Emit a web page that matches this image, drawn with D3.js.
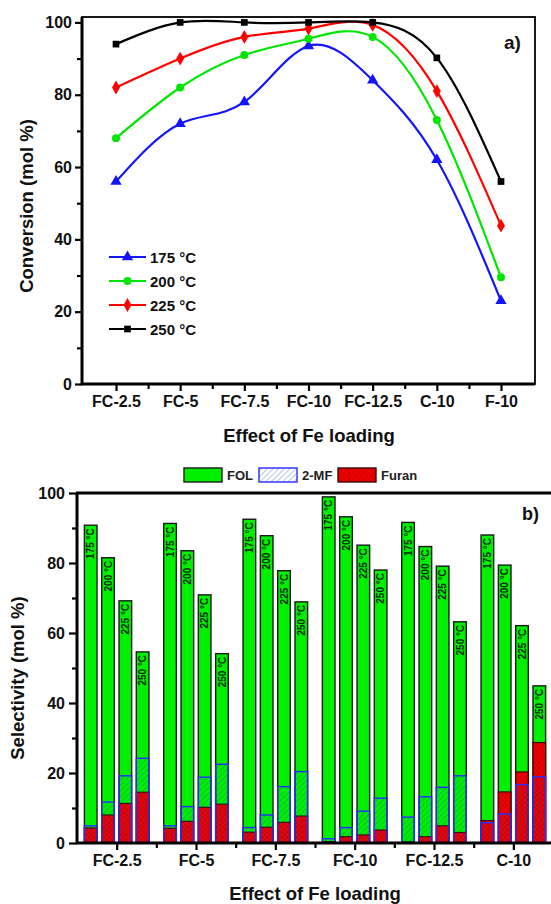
<!DOCTYPE html>
<html>
<head>
<meta charset="utf-8">
<script src="https://cdn.jsdelivr.net/npm/d3@7/dist/d3.min.js"></script>
<style>
  html, body { margin: 0; padding: 0; background: #ffffff; }
  svg { display: block; }
  text { font-family: Arial, "Liberation Sans", sans-serif; }
</style>
</head>
<body>
<script>
// ---------- Data: panel a) ----------
const categoriesA = ["FC-2.5", "FC-5", "FC-7.5", "FC-10", "FC-12.5", "C-10", "F-10"];
const tempLabels = ["175 °C", "200 °C", "225 °C", "250 °C"];
const conv175 = [56, 72, 78, 93.5, 84, 62, 23];
const conv200 = [68, 82, 91, 95.5, 96, 73, 29.5];
const conv225 = [82, 90, 96, 98.3, 99.3, 81, 43.8];
const conv250 = [94, 100, 100, 100, 100, 90.2, 56];
const yTicksA = [0, 20, 40, 60, 80, 100];

// ---------- Data: panel b) ----------
const categoriesB = ["FC-2.5", "FC-5", "FC-7.5", "FC-10", "FC-12.5", "C-10"];
const fol175 = [90.8, 91.3, 92.5, 98.9, 91.6, 88.0];
const fol200 = [81.5, 83.5, 87.8, 93.2, 84.7, 79.4];
const fol225 = [69.2, 70.9, 77.8, 85.1, 79.1, 62.1];
const fol250 = [54.6, 54.1, 68.9, 78.0, 63.2, 44.9];
const mf175 = [4.9, 4.9, 4.4, 1.2, 7.4, 5.8];
const mf200 = [11.7, 10.4, 8.0, 4.4, 13.2, 8.3];
const mf225 = [19.2, 18.8, 16.1, 9.1, 15.9, 16.7];
const mf250 = [24.2, 22.5, 20.4, 12.8, 19.2, 18.9];
const fu175 = [4.3, 4.2, 3.1, 0.4, 0.3, 6.4];
const fu200 = [8.0, 6.2, 4.5, 1.8, 1.8, 14.6];
const fu225 = [11.3, 10.2, 5.9, 2.3, 4.9, 20.3];
const fu250 = [14.5, 11.1, 7.7, 3.7, 3.0, 28.7];
const yTicksB = [0, 20, 40, 60, 80, 100];
const legendB = ["FOL", "2-MF", "Furan"];

const W = 551, H = 904;
const FONT = "Arial, 'Liberation Sans', sans-serif";
const svg = d3.select("body").append("svg").attr("width", W).attr("height", H);

const defs = svg.append("defs");
const pMF = defs.append("pattern").attr("id", "hatchMF")
  .attr("patternUnits", "userSpaceOnUse").attr("width", 4).attr("height", 4)
  .attr("patternTransform", "rotate(45)");
pMF.append("line").attr("x1", 0).attr("y1", 0).attr("x2", 0).attr("y2", 4)
  .attr("stroke", "#2050b8").attr("stroke-width", 1.2).attr("stroke-opacity", 0.55);

const pFu = defs.append("pattern").attr("id", "hatchFu")
  .attr("patternUnits", "userSpaceOnUse").attr("width", 3.5).attr("height", 3.5)
  .attr("patternTransform", "rotate(45)");
pFu.append("rect").attr("width", 3.5).attr("height", 3.5).attr("fill", "#f00000");
pFu.append("line").attr("x1", 0).attr("y1", 0).attr("x2", 0).attr("y2", 3.5)
  .attr("stroke", "#a00000").attr("stroke-width", 0.6);
pFu.append("line").attr("x1", 0).attr("y1", 0).attr("x2", 3.5).attr("y2", 0)
  .attr("stroke", "#a00000").attr("stroke-width", 0.6);

function styleAxis(g) {
  g.select(".domain").remove();
  g.selectAll(".tick line").attr("stroke", "#000").attr("stroke-width", 2.2);
  g.selectAll(".tick text").attr("fill", "#111").attr("font-size", 16).attr("font-weight", "bold")
    .attr("font-family", FONT);
}

// =================== Panel a ===================
const aL = 82, aR = 535, aT = 17, aB = 384;
const xA = d3.scalePoint().domain(categoriesA).range([aL, aR]).padding(0.53);
const yA = d3.scaleLinear().domain([0, 101.5]).range([aB, aT]);

const gA = svg.append("g");

const yAxA = gA.append("g").attr("transform", `translate(${aL},0)`)
  .call(d3.axisLeft(yA).tickValues(yTicksA).tickSize(7).tickPadding(3).tickFormat(d3.format("d")));
const yAxAm = gA.append("g").attr("transform", `translate(${aL},0)`)
  .call(d3.axisLeft(yA).tickValues([10, 30, 50, 70, 90]).tickSize(5).tickFormat(""));
const xAxA = gA.append("g").attr("transform", `translate(0,${aB})`)
  .call(d3.axisBottom(xA).tickSize(7).tickPadding(5));
const midsA = categoriesA.slice(0, -1).map((c, i) => (xA(c) + xA(categoriesA[i + 1])) / 2);
const xAxAm = gA.append("g").attr("transform", `translate(0,${aB})`)
  .call(d3.axisBottom(d3.scaleIdentity()).tickValues(midsA).tickSize(5).tickFormat(""));
[yAxA, yAxAm, xAxA, xAxAm].forEach(styleAxis);

gA.append("rect").attr("x", aL).attr("y", aT).attr("width", aR - aL).attr("height", aB - aT)
  .attr("fill", "none").attr("stroke", "#000").attr("stroke-width", 1.8);
gA.append("line").attr("x1", aL).attr("x2", aL).attr("y1", aT).attr("y2", aB + 1)
  .attr("stroke", "#000").attr("stroke-width", 3);
gA.append("line").attr("x1", aL - 1).attr("x2", aR).attr("y1", aB).attr("y2", aB)
  .attr("stroke", "#000").attr("stroke-width", 3);

const seriesA = [
  { name: tempLabels[0], values: conv175, color: "#1414ff", symbol: d3.symbolTriangle, size: 55 },
  { name: tempLabels[1], values: conv200, color: "#00e600", symbol: d3.symbolCircle, size: 50 },
  { name: tempLabels[2], values: conv225, color: "#ff0000", symbol: d3.symbolDiamond, size: 55 },
  { name: tempLabels[3], values: conv250, color: "#000000", symbol: d3.symbolSquare, size: 45 }
];

const lineA = d3.line().x((d, i) => xA(categoriesA[i])).y(d => yA(d)).curve(d3.curveNatural);
seriesA.forEach(s => {
  gA.append("path").datum(s.values).attr("d", lineA).attr("fill", "none")
    .attr("stroke", s.color).attr("stroke-width", 2.2);
  gA.selectAll(null).data(s.values).enter().append("path")
    .attr("d", d3.symbol().type(s.symbol).size(s.size))
    .attr("transform", (d, i) => `translate(${xA(categoriesA[i])},${yA(d)})`)
    .attr("fill", s.color);
});

const legA = gA.append("g");
seriesA.forEach((s, i) => {
  const y = 257 + i * 24;
  legA.append("line").attr("x1", 109).attr("x2", 146).attr("y1", y).attr("y2", y)
    .attr("stroke", s.color).attr("stroke-width", 2.2);
  legA.append("path").attr("d", d3.symbol().type(s.symbol).size(s.size))
    .attr("transform", `translate(127.5,${y})`).attr("fill", s.color);
  legA.append("text").attr("x", 150).attr("y", y + 5.5).attr("font-size", 15)
    .attr("font-weight", "bold").attr("fill", "#111").text(s.name);
});

gA.append("text").attr("x", 504).attr("y", 49).attr("font-size", 19).attr("font-weight", "bold")
  .attr("fill", "#111").text("a)");
gA.append("text").attr("x", 309).attr("y", 442).attr("text-anchor", "middle")
  .attr("font-size", 18.5).attr("font-weight", "bold").attr("fill", "#111").text("Effect of Fe loading");
gA.append("text").attr("transform", "translate(33,206) rotate(-90)").attr("text-anchor", "middle")
  .attr("font-size", 18.5).attr("font-weight", "bold").attr("fill", "#111").text("Conversion (mol %)");

// =================== Panel b ===================
const bL = 77, bR = 553, bT = 493, bB = 843;
const xB = d3.scaleBand().domain(categoriesB).range([bL, bR]).paddingInner(0.186).paddingOuter(0.093);
const xBi = d3.scaleBand().domain(tempLabels).range([0, xB.bandwidth()]).paddingInner(0.27).paddingOuter(0);
const yB = d3.scaleLinear().domain([0, 100]).range([bB, bT]);

const gB = svg.append("g");

const folS = [fol175, fol200, fol225, fol250];
const mfS = [mf175, mf200, mf225, mf250];
const fuS = [fu175, fu200, fu225, fu250];

const barData = [];
categoriesB.forEach((c, ci) => {
  tempLabels.forEach((t, ti) => {
    barData.push({ cat: c, temp: t, fol: folS[ti][ci], mf: mfS[ti][ci], fu: fuS[ti][ci] });
  });
});
const bx = d => xB(d.cat) + xBi(d.temp);
const bw = xBi.bandwidth();

gB.selectAll(".fol").data(barData).enter().append("rect")
  .attr("x", bx).attr("width", bw)
  .attr("y", d => yB(d.fol)).attr("height", d => yB(0) - yB(d.fol))
  .attr("fill", "#00f000").attr("stroke", "#1a1a1a").attr("stroke-width", 1.4);
gB.selectAll(".fu").data(barData).enter().append("rect")
  .attr("x", bx).attr("width", bw)
  .attr("y", d => yB(d.fu)).attr("height", d => yB(0) - yB(d.fu))
  .attr("fill", "url(#hatchFu)").attr("stroke", "#3a0a0a").attr("stroke-width", 1.2);
gB.selectAll(".mf").data(barData).enter().append("rect")
  .attr("x", bx).attr("width", bw)
  .attr("y", d => yB(d.mf)).attr("height", d => yB(0) - yB(d.mf))
  .attr("fill", "url(#hatchMF)").attr("stroke", "#2a2aff").attr("stroke-width", 1.4);

gB.selectAll(".lbl").data(barData).enter().append("text")
  .attr("transform", d => `translate(${bx(d) + bw / 2 + 3.6},${yB(d.fol) + 3}) rotate(-90)`)
  .attr("text-anchor", "end").attr("font-size", 10).attr("font-weight", "bold")
  .attr("fill", "#0a2a0a").text(d => d.temp);

const yAxB = gB.append("g").attr("transform", `translate(${bL},0)`)
  .call(d3.axisLeft(yB).tickValues(yTicksB).tickSize(8).tickPadding(4).tickFormat(d3.format("d")));
const yAxBm = gB.append("g").attr("transform", `translate(${bL},0)`)
  .call(d3.axisLeft(yB).tickValues([10, 30, 50, 70, 90]).tickSize(5).tickFormat(""));
const xBc = d3.scalePoint().domain(categoriesB).range([xB(categoriesB[0]) + xB.bandwidth() / 2,
  xB(categoriesB[categoriesB.length - 1]) + xB.bandwidth() / 2]);
const xAxB = gB.append("g").attr("transform", `translate(0,${bB})`)
  .call(d3.axisBottom(xBc).tickSize(7).tickPadding(5));
const midsB = categoriesB.slice(0, -1).map((c, i) => (xBc(c) + xBc(categoriesB[i + 1])) / 2);
const xAxBm = gB.append("g").attr("transform", `translate(0,${bB})`)
  .call(d3.axisBottom(d3.scaleIdentity()).tickValues(midsB).tickSize(5).tickFormat(""));
[yAxB, yAxBm, xAxB, xAxBm].forEach(styleAxis);

gB.append("rect").attr("x", bL).attr("y", bT).attr("width", bR - bL).attr("height", bB - bT)
  .attr("fill", "none").attr("stroke", "#000").attr("stroke-width", 1.8);
gB.append("line").attr("x1", bL).attr("x2", bL).attr("y1", bT).attr("y2", bB + 1)
  .attr("stroke", "#000").attr("stroke-width", 3);
gB.append("line").attr("x1", bL - 1).attr("x2", bR).attr("y1", bB).attr("y2", bB)
  .attr("stroke", "#000").attr("stroke-width", 3);
gB.append("line").attr("x1", bL - 1).attr("x2", bR).attr("y1", bT).attr("y2", bT)
  .attr("stroke", "#000").attr("stroke-width", 3);

const legFills = ["#00f000", "url(#hatchMF)", "url(#hatchFu)"];
const legStrokes = ["#1a1a1a", "#2a2aff", "#3a0a0a"];
const legX = [184, 259, 338];
legendB.forEach((n, i) => {
  if (i === 1) {
    gB.append("rect").attr("x", legX[i]).attr("y", 468).attr("width", 38).attr("height", 14)
      .attr("fill", "#ffffff");
  }
  gB.append("rect").attr("x", legX[i]).attr("y", 468).attr("width", 38).attr("height", 14)
    .attr("fill", legFills[i]).attr("stroke", legStrokes[i]).attr("stroke-width", 1.4);
  gB.append("text").attr("x", legX[i] + 43).attr("y", 480).attr("font-size", 13)
    .attr("font-weight", "bold").attr("fill", "#222").text(n);
});

gB.append("text").attr("x", 522).attr("y", 520).attr("font-size", 18).attr("font-weight", "bold")
  .attr("fill", "#111").text("b)");
gB.append("text").attr("x", 315).attr("y", 900).attr("text-anchor", "middle")
  .attr("font-size", 18.5).attr("font-weight", "bold").attr("fill", "#111").text("Effect of Fe loading");
gB.append("text").attr("transform", "translate(24,678) rotate(-90)").attr("text-anchor", "middle")
  .attr("font-size", 18.5).attr("font-weight", "bold").attr("fill", "#111").text("Selectivity (mol %)");
</script>
</body>
</html>
